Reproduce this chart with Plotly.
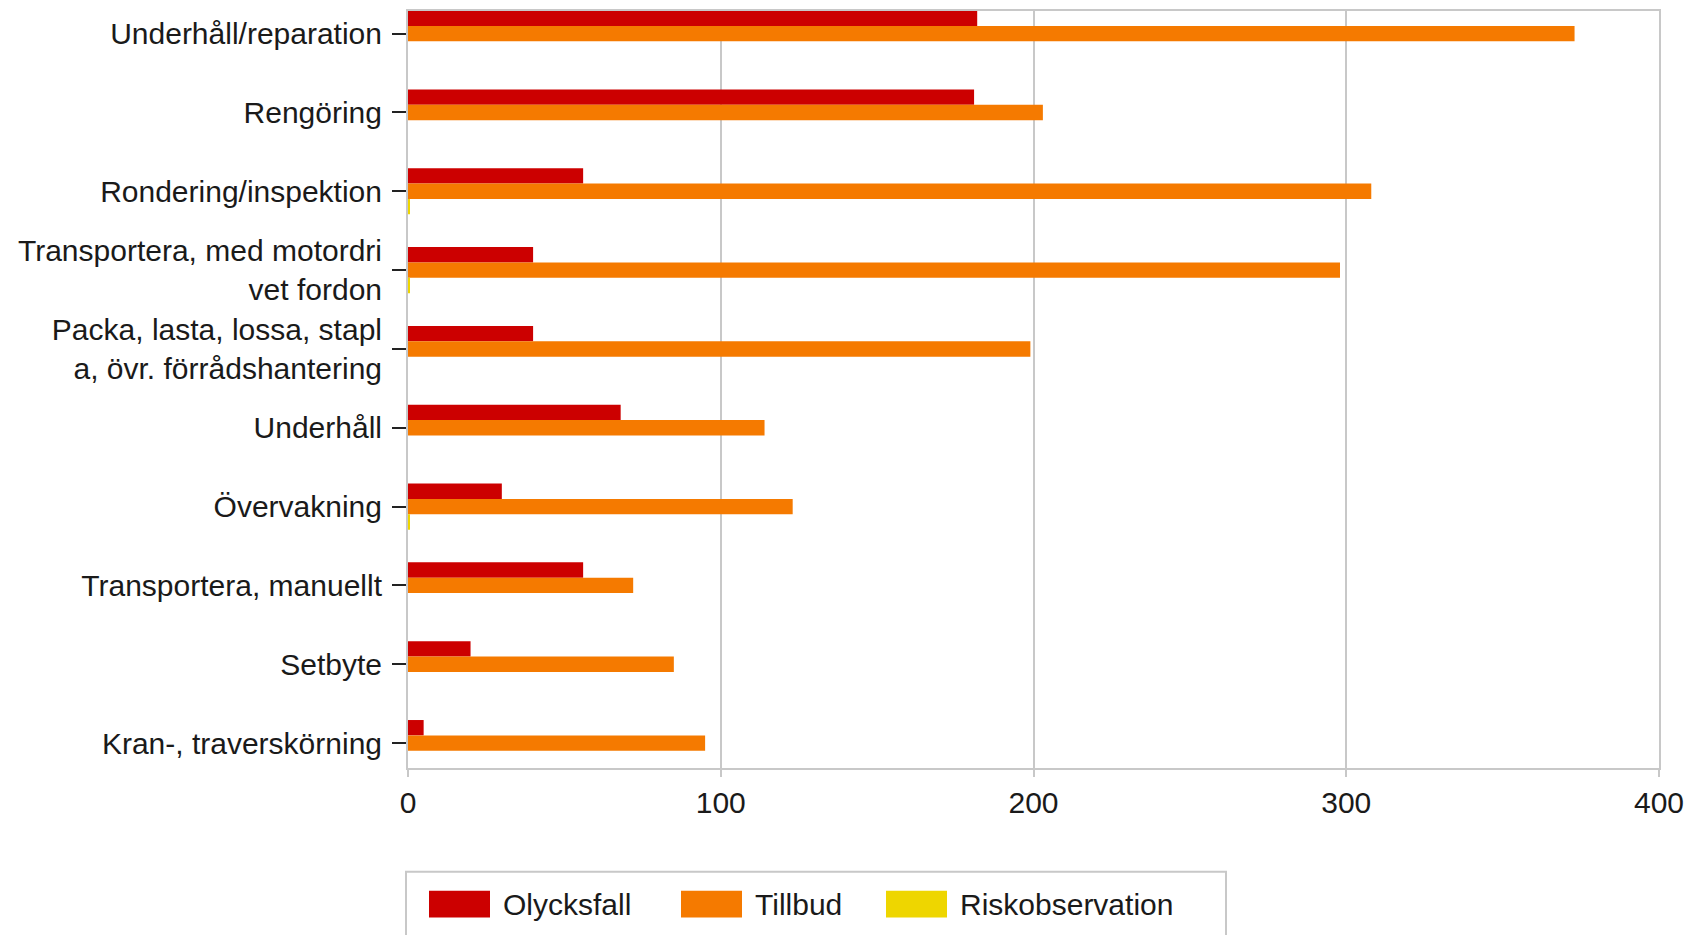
import plotly.graph_objects as go

categories = [
    "Underhåll/reparation",
    "Rengöring",
    "Rondering/inspektion",
    "Transportera, med motordri<br>vet fordon",
    "Packa, lasta, lossa, stapl<br>a, övr. förrådshantering",
    "Underhåll",
    "Övervakning",
    "Transportera, manuellt",
    "Setbyte",
    "Kran-, traverskörning",
]
olycksfall = [182, 181, 56, 40, 40, 68, 30, 56, 20, 5]
tillbud = [373, 203, 308, 298, 199, 114, 123, 72, 85, 95]
riskobservation = [0, 0, 0.5, 0.5, 0, 0, 0.5, 0, 0, 0]

series_names = ["Olycksfall", "Tillbud", "Riskobservation"]
series_values = [olycksfall, tillbud, riskobservation]
series_colors = ["#CC0000", "#F57A00", "#EED600"]

x_ticks = [0, 100, 200, 300, 400]

# page body adds an 8px offset; compensate so the plot lands where the reference has it
OFF = 8
W, H = 1700, 935
PL, PR, PT, PB = 408, 1659, 9, 768  # plot area in window pixels
ML = PL - OFF
MT = PT - OFF
PW, PH = PR - PL, PB - PT
MR = W - ML - PW
MB = H - MT - PH

FONT = "Liberation Sans, Arial, sans-serif"
TXT = "#1a1a1a"
GRID = "#C8C8C8"

fig = go.Figure()
for name, vals, col in zip(series_names, series_values, series_colors):
    fig.add_trace(go.Bar(
        y=categories, x=vals, name=name, orientation="h",
        marker=dict(color=col, line=dict(width=0)),
        showlegend=False,
    ))


def px_x(px):
    return (px - PL) / PW


def px_y(py):
    return (PB - py) / PH


shapes = []
annotations = []
# legend box (extends below figure bottom, as in reference)
shapes.append(dict(type="rect", xref="paper", yref="paper",
                   x0=px_x(406), x1=px_x(1226), y0=px_y(980), y1=px_y(872),
                   line=dict(color=GRID, width=2), fillcolor="rgba(0,0,0,0)"))
swatch_x = [429, 681, 886]
for sx, name, col in zip(swatch_x, series_names, series_colors):
    shapes.append(dict(type="rect", xref="paper", yref="paper",
                       x0=px_x(sx), x1=px_x(sx + 61), y0=px_y(918), y1=px_y(891),
                       line=dict(width=0), fillcolor=col))
    annotations.append(dict(xref="paper", yref="paper", x=px_x(sx + 72), y=px_y(905),
                            text=name, showarrow=False, xanchor="left", yanchor="middle",
                            font=dict(family=FONT, size=30, color=TXT)))

fig.update_layout(
    width=W, height=H,
    margin=dict(l=ML, r=MR, t=MT, b=MB, pad=0),
    paper_bgcolor="white", plot_bgcolor="white",
    barmode="group", bargap=0.415, bargroupgap=0,
    font=dict(family=FONT, size=30, color=TXT),
    shapes=shapes, annotations=annotations,
    showlegend=False,
)
fig.update_xaxes(
    range=[0, 400], tickvals=x_ticks, ticktext=[str(v) for v in x_ticks],
    showgrid=True, gridcolor=GRID, gridwidth=2,
    showline=True, linecolor=GRID, linewidth=2, mirror=True,
    ticks="outside", ticklen=7, tickcolor=GRID, tickwidth=2,
    tickfont=dict(family=FONT, size=30, color=TXT),
    zeroline=False,
)
fig.update_yaxes(
    type="category", categoryorder="array", categoryarray=categories,
    range=[9.316, -0.287],
    showgrid=False,
    showline=True, linecolor=GRID, linewidth=2, mirror=True,
    ticks="outside", ticklen=14, tickcolor="#222222", tickwidth=2,
    ticklabelstandoff=4,
    tickfont=dict(family=FONT, size=30, color=TXT),
    zeroline=False,
)

fig.write_html("out.html")
